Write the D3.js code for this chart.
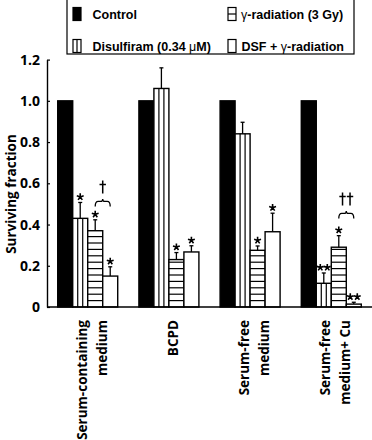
<!DOCTYPE html>
<html>
<head>
<meta charset="utf-8">
<script src="https://cdn.jsdelivr.net/npm/d3@7"></script>
<style>
  body { margin: 0; background: #fff; }
  svg { display: block; }
</style>
</head>
<body>
<script>
var width = 372,
    height = 440;

// data
var groups = ["Serum-containing medium", "BCPD", "Serum-free medium", "Serum-free medium+ Cu"];
var groupLines = [["Serum-containing", "medium"], ["BCPD"], ["Serum-free", "medium"], ["Serum-free", "medium+ Cu"]];
var series = ["Control", "Disulfiram (0.34 \u03bcM)", "\u03b3-radiation (3 Gy)", "DSF + \u03b3-radiation"];

var control    = [1.0, 1.0, 1.0, 1.0];
var disulfiram = [0.43, 1.06, 0.84, 0.115];
var gammaRad   = [0.37, 0.23, 0.275, 0.29];
var dsfGamma   = [0.15, 0.267, 0.365, 0.014];

var controlErr    = [0, 0, 0, 0];
var disulfiramErr = [0.077, 0.10, 0.056, 0.05];
var gammaErr      = [0.053, 0.034, 0.021, 0.056];
var dsfErr        = [0.045, 0.03, 0.09, 0.009];

// number of stars above each bar
var controlSig    = [0, 0, 0, 0];
var disulfiramSig = [1, 0, 0, 2];
var gammaSig      = [1, 1, 1, 1];
var dsfSig        = [1, 1, 1, 2];

// daggers over the gamma vs DSF+gamma bracket
var bracketGroup = [0, 3];
var bracketLevel = [0.512, 0.454];
var bracketDaggers = [1, 2];

var yTicks = [0, 0.2, 0.4, 0.6, 0.8, 1.0, 1.2];

var values = [control, disulfiram, gammaRad, dsfGamma];
var errs = [controlErr, disulfiramErr, gammaErr, dsfErr];
var sigs = [controlSig, disulfiramSig, gammaSig, dsfSig];

var bars = [];
groups.forEach(function(g, gi) {
  series.forEach(function(s, si) {
    bars.push({ group: g, gi: gi, series: s, si: si, value: values[si][gi], err: errs[si][gi], sig: sigs[si][gi] });
  });
});

var svg = d3.select("body").append("svg")
    .attr("width", width)
    .attr("height", height);

var x0 = d3.scaleBand().domain(groups).range([47, 372]).paddingInner(0.261).paddingOuter(0.132);
var x1 = d3.scaleBand().domain(series).range([0, x0.bandwidth()]);
var y = d3.scaleLinear().domain([0, 1.2]).range([307, 59.6]);

// bars
var bar = svg.append("g").selectAll("g")
  .data(bars)
  .enter().append("g")
    .attr("transform", function(d) { return "translate(" + (x0(d.group) + x1(d.series)) + ",0)"; });

bar.append("rect")
    .attr("x", 0)
    .attr("y", function(d) { return y(d.value); })
    .attr("width", x1.bandwidth())
    .attr("height", function(d) { return y(0) - y(d.value); })
    .attr("fill", function(d) { return d.si === 0 ? "#000" : "#fff"; })
    .attr("stroke", "#000")
    .attr("stroke-width", 1.4);

// vertical stripes for disulfiram
bar.filter(function(d) { return d.si === 1; }).each(function(d) {
  var w = x1.bandwidth();
  d3.select(this).selectAll("line.v")
    .data([w / 3, 2 * w / 3])
    .enter().append("line")
      .attr("x1", function(t) { return t; })
      .attr("x2", function(t) { return t; })
      .attr("y1", y(d.value))
      .attr("y2", y(0))
      .attr("stroke", "#000")
      .attr("stroke-width", 1.2);
});

// horizontal stripes for gamma radiation
bar.filter(function(d) { return d.si === 2; }).each(function(d) {
  var top = y(d.value), step = 6.4, ys = [];
  for (var yy = y(0) - step; yy > top + 2; yy -= step) ys.push(yy);
  d3.select(this).selectAll("line.h")
    .data(ys)
    .enter().append("line")
      .attr("x1", 0)
      .attr("x2", x1.bandwidth())
      .attr("y1", function(t) { return t; })
      .attr("y2", function(t) { return t; })
      .attr("stroke", "#000")
      .attr("stroke-width", 1.2);
});

// error bars
var eb = bar.filter(function(d) { return d.err > 0; });
eb.append("line")
    .attr("x1", x1.bandwidth() / 2)
    .attr("x2", x1.bandwidth() / 2)
    .attr("y1", function(d) { return y(d.value); })
    .attr("y2", function(d) { return y(d.value + d.err); })
    .attr("stroke", "#000")
    .attr("stroke-width", 1.3);
eb.append("line")
    .attr("x1", x1.bandwidth() / 2 - 2)
    .attr("x2", x1.bandwidth() / 2 + 2)
    .attr("y1", function(d) { return y(d.value + d.err); })
    .attr("y2", function(d) { return y(d.value + d.err); })
    .attr("stroke", "#000")
    .attr("stroke-width", 1.3);

// significance stars, drawn as 5-armed asterisks
function starPath(cx, cy, r) {
  var p = "";
  for (var k = 0; k < 5; k++) {
    var a = -Math.PI / 2 + k * 2 * Math.PI / 5;
    p += "M" + cx + "," + cy + "L" + (cx + r * Math.cos(a)) + "," + (cy + r * Math.sin(a));
  }
  return p;
}
bar.filter(function(d) { return d.sig > 0; }).append("path")
    .attr("d", function(d) {
      var cy = y(d.value + d.err) - 5.5, c = x1.bandwidth() / 2, p = "";
      for (var k = 0; k < d.sig; k++) p += starPath(c + (k - (d.sig - 1) / 2) * 7, cy, 3.6);
      return p;
    })
    .attr("fill", "none")
    .attr("stroke", "#000")
    .attr("stroke-width", 1.6);

// dagger glyph as a path (top at ty)
function daggerPath(cx, ty) {
  return "M" + cx + "," + ty + "L" + cx + "," + (ty + 13) +
         "M" + (cx - 3.2) + "," + (ty + 4) + "L" + (cx + 3.2) + "," + (ty + 4);
}

// brackets between gamma and DSF+gamma
bracketGroup.forEach(function(gi, i) {
  var g = groups[gi];
  var xa = x0(g) + x1(series[2]) + x1.bandwidth() / 2,
      xb = x0(g) + x1(series[3]) + x1.bandwidth() / 2,
      xm = (xa + xb) / 2,
      yb = y(bracketLevel[i]);
  svg.append("path")
      .attr("d", "M" + xa + "," + (yb + 5) + "Q" + xa + "," + yb + " " + (xa + 3) + "," + yb +
                 "L" + (xm - 2) + "," + yb + "Q" + xm + "," + yb + " " + xm + "," + (yb - 2.5) +
                 "Q" + xm + "," + yb + " " + (xm + 2) + "," + yb +
                 "L" + (xb - 3) + "," + yb + "Q" + xb + "," + yb + " " + xb + "," + (yb + 5))
      .attr("fill", "none")
      .attr("stroke", "#000")
      .attr("stroke-width", 1.3);
  var n = bracketDaggers[i], p = "";
  for (var k = 0; k < n; k++) p += daggerPath(xm + (k - (n - 1) / 2) * 7.5, yb - 21);
  svg.append("path")
      .attr("d", p)
      .attr("fill", "none")
      .attr("stroke", "#000")
      .attr("stroke-width", 1.5);
});

// axes
var yAxis = svg.append("g")
    .attr("transform", "translate(47,0)")
    .call(d3.axisLeft(y).tickValues(yTicks).tickSizeInner(-3).tickSizeOuter(0).tickPadding(7)
      .tickFormat(function(d) { return d === 0 ? "0" : d3.format(".1f")(d); }));
yAxis.select(".domain").attr("stroke-width", 1.4);
yAxis.selectAll(".tick line").attr("stroke-width", 1.2);
yAxis.selectAll(".tick text")
    .attr("font-family", "Open Sans, sans-serif")
    .attr("font-weight", 700)
    .attr("font-size", 14)
    .attr("fill", "#000");

svg.append("line")
    .attr("x1", 47).attr("x2", 372)
    .attr("y1", y(0)).attr("y2", y(0))
    .attr("stroke", "#000")
    .attr("stroke-width", 1.5);

svg.append("text")
    .attr("transform", "translate(16," + 194 + ") rotate(-90)")
    .attr("text-anchor", "middle")
    .attr("font-family", "Open Sans, sans-serif")
    .attr("font-weight", 700)
    .attr("font-size", 13.5)
    .text("Surviving fraction");

// group labels (rotated)
groups.forEach(function(g, gi) {
  var lines = groupLines[gi],
      cx = x0(g) + x0.bandwidth() / 2 + 4;
  lines.forEach(function(l, li) {
    var lx = cx + (li - (lines.length - 1) / 2) * 20 + 5;
    svg.append("text")
        .attr("transform", "translate(" + lx + ",320) rotate(-90)")
        .attr("text-anchor", "end")
        .attr("font-family", "Open Sans, sans-serif")
        .attr("font-weight", 700)
        .attr("font-size", 13.5)
        .text(l);
  });
});

// legend
var legend = svg.append("g");
legend.append("rect")
    .attr("x", 67).attr("y", -2)
    .attr("width", 287).attr("height", 56)
    .attr("fill", "#fff")
    .attr("stroke", "#000")
    .attr("stroke-width", 1.2);

series.forEach(function(s, si) {
  var col = si === 0 || si === 1 ? 0 : 1;
  var px = col === 0 ? 73 : 228,
      py = (si === 0 || si === 2) ? 7.5 : 39.5;
  var item = legend.append("g").attr("transform", "translate(" + px + "," + py + ")");
  item.append("rect")
      .attr("width", 8).attr("height", 13)
      .attr("fill", si === 0 ? "#000" : "#fff")
      .attr("stroke", "#000")
      .attr("stroke-width", 1.2);
  if (si === 1) item.append("line").attr("x1", 4).attr("x2", 4).attr("y1", 0).attr("y2", 13).attr("stroke", "#000").attr("stroke-width", 1.2);
  if (si === 2) item.append("line").attr("x1", 0).attr("x2", 8).attr("y1", 6.5).attr("y2", 6.5).attr("stroke", "#000").attr("stroke-width", 1.2);

  var t = item.append("text")
      .attr("x", col === 0 ? 19.5 : (si === 2 ? 13 : 13.5))
      .attr("y", 11.5)
      .attr("font-family", "Liberation Sans, Arial, sans-serif")
      .attr("font-weight", 700)
      .attr("font-size", 12.5);
  // greek letters in normal weight
  s.split(/([\u03b3\u03bc])/).forEach(function(part) {
    if (part === "") return;
    t.append("tspan")
        .attr("font-weight", /[\u03b3\u03bc]/.test(part) ? 400 : 700)
        .text(part);
  });
});
</script>
</body>
</html>
